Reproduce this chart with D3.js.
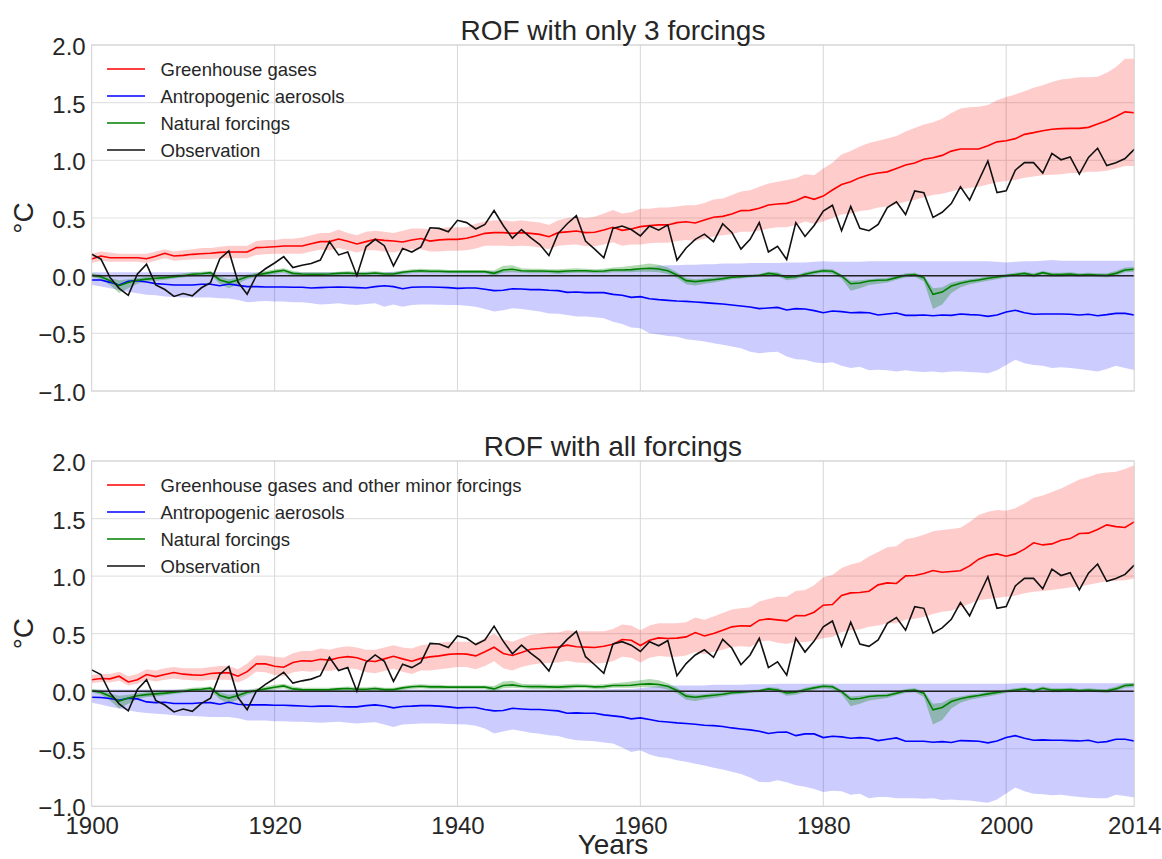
<!DOCTYPE html>
<html><head><meta charset="utf-8">
<script src="https://cdn.jsdelivr.net/npm/d3@7"></script>
<style>
body{margin:0;background:#fff}
svg{display:block}
text{font-family:"Liberation Sans",Arial,sans-serif;fill:#262626}
</style>
</head><body>
<svg id="chart" width="1162" height="859"></svg>
<script>
// Annual values 1900–2014, °C
const firstYear = 1900, lastYear = 2014;
const xTicks = [1900, 1920, 1940, 1960, 1980, 2000, 2014];
const xGrid = [1920, 1940, 1960, 1980, 2000];
const yTicks = [-1, -0.5, 0, 0.5, 1, 1.5, 2];

const observation = [
0.185,0.145,-0.015,-0.11,-0.17,0.015,0.10,-0.08,-0.12,-0.18,
-0.155,-0.175,-0.105,-0.06,0.145,0.215,-0.055,-0.16,0.0,0.06,
0.11,0.165,0.07,0.09,0.105,0.135,0.295,0.18,0.205,0.0,
0.25,0.315,0.26,0.085,0.235,0.205,0.25,0.415,0.41,0.38,
0.48,0.46,0.405,0.445,0.565,0.435,0.325,0.40,0.33,0.27,
0.175,0.365,0.45,0.52,0.30,0.23,0.155,0.41,0.43,0.40,
0.345,0.43,0.395,0.44,0.135,0.24,0.315,0.36,0.295,0.45,
0.375,0.23,0.315,0.46,0.205,0.255,0.14,0.46,0.34,0.435,
0.56,0.61,0.39,0.60,0.41,0.39,0.445,0.59,0.64,0.53,
0.735,0.72,0.505,0.55,0.625,0.77,0.655,0.825,0.995,0.72,
0.735,0.915,0.98,0.98,0.89,1.06,1.005,1.03,0.88,1.025,
1.105,0.955,0.98,1.015,1.095];

// ROF with only 3 forcings
const ghg3 = [
0.145,0.17,0.156,0.156,0.156,0.156,0.147,0.168,0.194,0.17,
0.176,0.185,0.19,0.194,0.202,0.205,0.205,0.205,0.243,0.246,
0.251,0.257,0.257,0.257,0.277,0.295,0.295,0.318,0.298,0.275,
0.295,0.315,0.306,0.30,0.292,0.309,0.322,0.30,0.31,0.315,
0.315,0.324,0.344,0.367,0.373,0.373,0.367,0.373,0.367,0.358,
0.338,0.373,0.38,0.387,0.373,0.376,0.396,0.42,0.393,0.405,
0.425,0.434,0.44,0.44,0.46,0.468,0.457,0.483,0.506,0.514,
0.535,0.564,0.566,0.584,0.613,0.622,0.627,0.65,0.685,0.662,
0.69,0.743,0.79,0.815,0.85,0.875,0.89,0.90,0.93,0.96,
0.977,1.01,1.023,1.043,1.08,1.098,1.098,1.098,1.127,1.16,
1.17,1.188,1.225,1.24,1.257,1.27,1.275,1.277,1.277,1.286,
1.315,1.344,1.38,1.42,1.413];
const ghg3Hi = [
0.19,0.21,0.20,0.19,0.19,0.19,0.19,0.21,0.23,0.21,
0.22,0.23,0.24,0.24,0.25,0.26,0.26,0.26,0.30,0.31,
0.31,0.32,0.32,0.33,0.35,0.37,0.37,0.40,0.37,0.35,
0.38,0.39,0.38,0.37,0.39,0.41,0.41,0.40,0.41,0.42,
0.42,0.42,0.45,0.47,0.48,0.48,0.47,0.48,0.47,0.46,
0.44,0.48,0.50,0.51,0.50,0.51,0.54,0.57,0.54,0.55,
0.58,0.58,0.59,0.59,0.60,0.61,0.61,0.63,0.66,0.67,
0.70,0.73,0.74,0.77,0.80,0.815,0.83,0.845,0.88,0.87,
0.93,0.98,1.05,1.08,1.12,1.15,1.17,1.19,1.21,1.25,
1.28,1.31,1.33,1.36,1.41,1.45,1.46,1.465,1.48,1.52,
1.55,1.57,1.60,1.63,1.65,1.68,1.70,1.71,1.72,1.72,
1.725,1.76,1.81,1.88,1.88];
const ghg3Lo = [
0.11,0.13,0.12,0.12,0.12,0.12,0.11,0.13,0.15,0.13,
0.135,0.14,0.145,0.145,0.15,0.15,0.15,0.15,0.18,0.185,
0.19,0.19,0.19,0.19,0.21,0.225,0.22,0.24,0.22,0.20,
0.22,0.22,0.21,0.20,0.22,0.23,0.23,0.21,0.21,0.215,
0.215,0.22,0.235,0.26,0.26,0.26,0.255,0.26,0.255,0.245,
0.23,0.26,0.265,0.27,0.255,0.255,0.27,0.29,0.26,0.27,
0.27,0.28,0.285,0.285,0.30,0.31,0.30,0.32,0.34,0.35,
0.36,0.38,0.38,0.39,0.41,0.42,0.42,0.44,0.47,0.45,
0.47,0.50,0.53,0.54,0.56,0.57,0.59,0.60,0.62,0.64,
0.655,0.68,0.70,0.71,0.73,0.75,0.76,0.77,0.79,0.81,
0.82,0.83,0.85,0.86,0.87,0.875,0.88,0.89,0.89,0.90,
0.90,0.91,0.93,0.95,0.95];
const aer3 = [
-0.038,-0.038,-0.058,-0.081,-0.049,-0.043,-0.055,-0.069,-0.075,-0.081,
-0.081,-0.081,-0.075,-0.075,-0.087,-0.072,-0.084,-0.095,-0.095,-0.098,
-0.098,-0.098,-0.101,-0.101,-0.107,-0.104,-0.101,-0.098,-0.101,-0.104,
-0.107,-0.095,-0.087,-0.095,-0.113,-0.101,-0.098,-0.098,-0.101,-0.104,
-0.11,-0.107,-0.107,-0.118,-0.13,-0.127,-0.113,-0.116,-0.121,-0.121,
-0.127,-0.13,-0.145,-0.142,-0.147,-0.147,-0.147,-0.162,-0.17,-0.188,
-0.182,-0.2,-0.208,-0.214,-0.22,-0.223,-0.228,-0.234,-0.24,-0.246,
-0.254,-0.263,-0.272,-0.286,-0.28,-0.275,-0.298,-0.286,-0.289,-0.303,
-0.321,-0.306,-0.312,-0.321,-0.318,-0.321,-0.341,-0.332,-0.324,-0.344,
-0.344,-0.341,-0.347,-0.341,-0.344,-0.332,-0.338,-0.341,-0.353,-0.341,
-0.315,-0.30,-0.321,-0.335,-0.332,-0.332,-0.332,-0.335,-0.341,-0.335,
-0.347,-0.338,-0.327,-0.327,-0.341];
const aer3Hi = [
0.03,0.03,0.03,0.03,0.03,0.03,0.03,0.03,0.03,0.03,
0.03,0.03,0.03,0.03,0.03,0.03,0.03,0.03,0.03,0.03,
0.03,0.03,0.03,0.03,0.03,0.03,0.03,0.03,0.03,0.03,
0.03,0.03,0.03,0.035,0.04,0.04,0.04,0.04,0.04,0.04,
0.04,0.04,0.04,0.04,0.04,0.04,0.04,0.04,0.04,0.04,
0.04,0.04,0.04,0.04,0.04,0.04,0.04,0.045,0.045,0.05,
0.055,0.07,0.085,0.09,0.09,0.095,0.095,0.10,0.10,0.105,
0.105,0.105,0.11,0.11,0.11,0.11,0.115,0.115,0.115,0.12,
0.125,0.12,0.12,0.12,0.12,0.125,0.125,0.125,0.125,0.125,
0.125,0.125,0.125,0.125,0.125,0.125,0.125,0.125,0.125,0.12,
0.115,0.12,0.125,0.125,0.13,0.135,0.13,0.13,0.13,0.13,
0.13,0.13,0.13,0.13,0.13];
const aer3Lo = [
-0.08,-0.095,-0.11,-0.125,-0.14,-0.153,-0.165,-0.17,-0.18,-0.185,
-0.19,-0.19,-0.19,-0.19,-0.195,-0.197,-0.21,-0.23,-0.225,-0.22,
-0.225,-0.225,-0.23,-0.23,-0.24,-0.25,-0.245,-0.24,-0.25,-0.254,
-0.245,-0.24,-0.27,-0.25,-0.27,-0.255,-0.25,-0.25,-0.252,-0.255,
-0.254,-0.26,-0.27,-0.29,-0.31,-0.30,-0.283,-0.29,-0.30,-0.31,
-0.327,-0.33,-0.34,-0.355,-0.355,-0.36,-0.37,-0.40,-0.42,-0.45,
-0.457,-0.50,-0.51,-0.523,-0.53,-0.552,-0.56,-0.57,-0.585,-0.60,
-0.615,-0.63,-0.66,-0.673,-0.665,-0.66,-0.70,-0.725,-0.73,-0.75,
-0.76,-0.75,-0.78,-0.80,-0.79,-0.82,-0.815,-0.82,-0.83,-0.82,
-0.83,-0.835,-0.83,-0.84,-0.83,-0.83,-0.835,-0.84,-0.847,-0.82,
-0.775,-0.73,-0.76,-0.775,-0.78,-0.80,-0.795,-0.80,-0.81,-0.82,
-0.83,-0.81,-0.78,-0.80,-0.818];

// Natural forcings response (same in both attributions)
const natural = [
0.005,-0.009,-0.043,-0.087,-0.06,-0.04,-0.03,-0.023,-0.017,-0.009,
0.0,0.012,0.017,0.026,-0.037,-0.06,-0.038,-0.009,0.006,0.02,
0.035,0.046,0.02,0.014,0.012,0.012,0.014,0.02,0.023,0.017,
0.017,0.023,0.014,0.014,0.029,0.038,0.043,0.038,0.038,0.035,
0.035,0.035,0.035,0.035,0.02,0.049,0.055,0.043,0.04,0.04,
0.038,0.035,0.04,0.043,0.043,0.038,0.04,0.049,0.049,0.052,
0.06,0.064,0.058,0.043,0.006,-0.043,-0.052,-0.043,-0.035,-0.026,
-0.014,-0.009,-0.003,0.003,0.02,0.01,-0.015,-0.009,0.012,0.029,
0.043,0.038,-0.003,-0.07,-0.064,-0.046,-0.04,-0.038,-0.017,0.003,
0.009,-0.017,-0.162,-0.142,-0.09,-0.066,-0.049,-0.038,-0.023,-0.012,
0.0,0.009,0.02,0.003,0.026,0.009,0.009,0.014,0.006,0.009,
0.006,0.003,0.02,0.049,0.055];
const naturalHi = [
0.02,0.01,-0.02,-0.04,-0.03,-0.02,-0.01,0.0,0.0,0.01,
0.02,0.03,0.035,0.04,-0.01,-0.03,-0.015,0.01,0.025,0.04,
0.055,0.065,0.04,0.03,0.03,0.03,0.03,0.035,0.04,0.035,
0.035,0.04,0.03,0.03,0.045,0.055,0.06,0.055,0.055,0.05,
0.05,0.05,0.05,0.05,0.045,0.085,0.09,0.065,0.06,0.06,
0.055,0.055,0.06,0.065,0.06,0.055,0.06,0.07,0.075,0.085,
0.095,0.105,0.095,0.07,0.03,-0.02,-0.03,-0.025,-0.015,-0.01,
0.0,0.005,0.01,0.015,0.035,0.03,0.0,0.005,0.03,0.045,
0.06,0.055,0.01,-0.045,-0.04,-0.03,-0.025,-0.02,0.0,0.02,
0.025,0.0,-0.11,-0.10,-0.06,-0.045,-0.03,-0.02,-0.005,0.005,
0.015,0.025,0.035,0.02,0.04,0.025,0.025,0.03,0.02,0.025,
0.02,0.02,0.04,0.07,0.075];
const naturalLo = [
-0.01,-0.03,-0.08,-0.15,-0.11,-0.07,-0.05,-0.045,-0.035,-0.025,
-0.015,-0.005,0.0,0.005,-0.07,-0.11,-0.07,-0.03,-0.01,0.0,
0.015,0.025,0.0,-0.005,-0.005,-0.005,-0.005,0.0,0.005,0.0,
0.0,0.005,-0.005,-0.005,0.01,0.02,0.025,0.02,0.02,0.02,
0.02,0.02,0.02,0.02,0.0,0.025,0.03,0.025,0.02,0.02,
0.02,0.015,0.02,0.025,0.025,0.02,0.02,0.03,0.03,0.03,
0.035,0.035,0.03,0.015,-0.02,-0.075,-0.085,-0.07,-0.06,-0.045,
-0.03,-0.025,-0.015,-0.01,0.005,-0.005,-0.04,-0.03,-0.01,0.01,
0.025,0.015,-0.025,-0.13,-0.11,-0.08,-0.07,-0.06,-0.035,-0.015,
-0.01,-0.05,-0.29,-0.25,-0.15,-0.10,-0.075,-0.06,-0.045,-0.03,
-0.015,-0.005,0.005,-0.015,0.01,-0.01,-0.01,0.0,-0.01,-0.005,
-0.01,-0.015,0.0,0.03,0.035];

// ROF with all forcings
const ghgAll = [
0.10,0.11,0.107,0.13,0.08,0.10,0.145,0.127,0.145,0.162,
0.148,0.142,0.139,0.154,0.159,0.159,0.13,0.17,0.237,0.237,
0.217,0.208,0.249,0.264,0.261,0.278,0.27,0.29,0.30,0.29,
0.264,0.258,0.281,0.304,0.281,0.261,0.285,0.298,0.307,0.32,
0.325,0.322,0.307,0.342,0.382,0.328,0.31,0.336,0.365,0.371,
0.38,0.383,0.40,0.386,0.383,0.38,0.391,0.408,0.449,0.443,
0.397,0.443,0.463,0.458,0.461,0.472,0.51,0.48,0.501,0.53,
0.559,0.568,0.565,0.617,0.628,0.62,0.611,0.657,0.655,0.686,
0.747,0.753,0.831,0.854,0.857,0.869,0.924,0.941,0.936,1.002,
1.005,1.022,1.048,1.034,1.04,1.046,1.089,1.147,1.178,1.193,
1.173,1.193,1.234,1.289,1.271,1.28,1.312,1.326,1.37,1.373,
1.405,1.445,1.43,1.422,1.471];
const ghgAllHi = [
0.14,0.15,0.15,0.17,0.13,0.15,0.19,0.18,0.20,0.21,
0.20,0.20,0.20,0.21,0.22,0.22,0.19,0.24,0.31,0.31,
0.30,0.29,0.33,0.35,0.35,0.37,0.36,0.38,0.39,0.38,
0.36,0.36,0.38,0.40,0.38,0.37,0.40,0.41,0.42,0.43,
0.43,0.43,0.42,0.46,0.50,0.45,0.43,0.46,0.49,0.50,
0.51,0.51,0.53,0.52,0.52,0.52,0.52,0.54,0.58,0.57,
0.53,0.57,0.59,0.59,0.59,0.60,0.64,0.62,0.65,0.68,
0.71,0.72,0.73,0.78,0.80,0.82,0.82,0.87,0.88,0.92,
0.99,1.01,1.07,1.10,1.12,1.17,1.21,1.25,1.26,1.32,
1.335,1.36,1.39,1.40,1.41,1.42,1.47,1.53,1.56,1.575,
1.567,1.59,1.63,1.68,1.70,1.73,1.76,1.80,1.84,1.86,
1.89,1.90,1.906,1.93,1.963];
const ghgAllLo = [
0.07,0.08,0.075,0.09,0.05,0.065,0.10,0.085,0.10,0.11,
0.10,0.095,0.09,0.10,0.10,0.10,0.075,0.11,0.17,0.165,
0.14,0.13,0.165,0.175,0.17,0.18,0.175,0.19,0.20,0.19,
0.165,0.155,0.175,0.195,0.17,0.15,0.18,0.18,0.19,0.20,
0.21,0.21,0.19,0.22,0.26,0.20,0.18,0.21,0.23,0.24,
0.245,0.25,0.265,0.25,0.245,0.24,0.245,0.26,0.30,0.29,
0.25,0.29,0.305,0.30,0.30,0.31,0.34,0.32,0.34,0.36,
0.385,0.39,0.385,0.43,0.44,0.42,0.41,0.43,0.425,0.44,
0.46,0.47,0.515,0.53,0.535,0.56,0.57,0.59,0.59,0.62,
0.63,0.645,0.67,0.69,0.70,0.73,0.76,0.79,0.80,0.81,
0.82,0.83,0.85,0.865,0.87,0.88,0.89,0.90,0.91,0.925,
0.94,0.955,0.96,0.965,0.98];
const aerAll = [
-0.052,-0.055,-0.064,-0.078,-0.061,-0.067,-0.093,-0.099,-0.096,-0.107,
-0.107,-0.107,-0.101,-0.099,-0.113,-0.096,-0.113,-0.119,-0.119,-0.119,
-0.122,-0.122,-0.125,-0.128,-0.133,-0.13,-0.128,-0.133,-0.136,-0.136,
-0.125,-0.119,-0.128,-0.145,-0.133,-0.13,-0.125,-0.125,-0.13,-0.136,
-0.145,-0.142,-0.142,-0.159,-0.171,-0.168,-0.148,-0.154,-0.159,-0.159,
-0.165,-0.171,-0.191,-0.188,-0.191,-0.191,-0.206,-0.214,-0.223,-0.24,
-0.232,-0.246,-0.261,-0.267,-0.275,-0.281,-0.287,-0.296,-0.299,-0.307,
-0.319,-0.328,-0.336,-0.348,-0.368,-0.357,-0.354,-0.386,-0.371,-0.371,
-0.403,-0.391,-0.397,-0.409,-0.403,-0.409,-0.429,-0.417,-0.406,-0.435,
-0.435,-0.435,-0.443,-0.438,-0.446,-0.429,-0.432,-0.435,-0.449,-0.432,
-0.403,-0.386,-0.409,-0.426,-0.423,-0.426,-0.426,-0.429,-0.432,-0.426,
-0.446,-0.438,-0.417,-0.417,-0.432];
const aerAllHi = [
0.015,0.015,0.015,0.015,0.015,0.015,0.015,0.015,0.015,0.015,
0.015,0.015,0.015,0.015,0.015,0.015,0.015,0.015,0.015,0.015,
0.015,0.015,0.015,0.015,0.015,0.015,0.015,0.015,0.015,0.015,
0.015,0.015,0.015,0.015,0.015,0.015,0.015,0.015,0.015,0.015,
0.015,0.015,0.015,0.015,0.015,0.015,0.015,0.015,0.015,0.015,
0.015,0.015,0.015,0.015,0.015,0.015,0.015,0.02,0.02,0.02,
0.025,0.035,0.045,0.05,0.05,0.05,0.05,0.05,0.055,0.055,
0.055,0.055,0.06,0.06,0.06,0.065,0.065,0.065,0.065,0.065,
0.065,0.065,0.065,0.065,0.065,0.065,0.065,0.065,0.065,0.065,
0.065,0.065,0.065,0.065,0.065,0.065,0.065,0.065,0.065,0.065,
0.065,0.07,0.07,0.07,0.07,0.07,0.07,0.07,0.07,0.07,
0.07,0.07,0.07,0.07,0.07];
const aerAllLo = [
-0.10,-0.115,-0.135,-0.15,-0.165,-0.18,-0.19,-0.195,-0.20,-0.21,
-0.215,-0.215,-0.22,-0.225,-0.225,-0.225,-0.235,-0.255,-0.255,-0.255,
-0.26,-0.26,-0.265,-0.265,-0.27,-0.275,-0.27,-0.265,-0.275,-0.28,
-0.275,-0.27,-0.29,-0.31,-0.29,-0.285,-0.28,-0.28,-0.28,-0.285,
-0.287,-0.29,-0.30,-0.325,-0.368,-0.35,-0.333,-0.345,-0.36,-0.37,
-0.383,-0.39,-0.41,-0.426,-0.43,-0.435,-0.445,-0.455,-0.49,-0.528,
-0.513,-0.55,-0.571,-0.58,-0.60,-0.614,-0.63,-0.645,-0.665,-0.68,
-0.70,-0.72,-0.75,-0.788,-0.79,-0.774,-0.79,-0.817,-0.83,-0.85,
-0.875,-0.865,-0.87,-0.90,-0.89,-0.93,-0.92,-0.92,-0.93,-0.93,
-0.93,-0.935,-0.93,-0.945,-0.94,-0.947,-0.95,-0.96,-0.97,-0.94,
-0.889,-0.837,-0.87,-0.89,-0.895,-0.904,-0.90,-0.91,-0.92,-0.925,
-0.93,-0.93,-0.90,-0.91,-0.924];

const years = d3.range(firstYear, lastYear + 1);

const panels = [
  {title: "ROF with only 3 forcings", top: 45, bottom: 391, showX: false,
   ghg: [ghg3, ghg3Lo, ghg3Hi], aer: [aer3, aer3Lo, aer3Hi],
   labels: ["Greenhouse gases", "Antropogenic aerosols", "Natural forcings", "Observation"]},
  {title: "ROF with all forcings", top: 461, bottom: 806.3, showX: true,
   ghg: [ghgAll, ghgAllLo, ghgAllHi], aer: [aerAll, aerAllLo, aerAllHi],
   labels: ["Greenhouse gases and other minor forcings", "Antropogenic aerosols", "Natural forcings", "Observation"]}
];

const svg = d3.select("#chart");
const left = 91.7, right = 1134.2;
const x = d3.scaleLinear().domain([firstYear, lastYear]).range([left, right]);
const fmtY = d3.format(".1f");
const lw = 1.6;

function drawPanel(p) {
  const y = d3.scaleLinear().domain([-1, 2]).range([p.bottom, p.top]);
  const g = svg.append("g");

  // grid
  g.append("g").selectAll("line").data(yTicks).join("line")
    .attr("x1", left).attr("x2", right)
    .attr("y1", d => y(d)).attr("y2", d => y(d))
    .attr("stroke", "#e3e3e3").attr("stroke-width", 1.2);
  g.append("g").selectAll("line").data(xGrid).join("line")
    .attr("x1", d => x(d)).attr("x2", d => x(d))
    .attr("y1", p.top).attr("y2", p.bottom)
    .attr("stroke", "#dadada").attr("stroke-width", 1.1);

  const band = (lo, hi) => d3.area()
    .x((d, i) => x(years[i])).y0((d, i) => y(lo[i])).y1((d, i) => y(hi[i]))(years);
  const line = vals => d3.line().x((d, i) => x(years[i])).y(d => y(d))(vals);

  g.append("path").attr("d", band(p.ghg[1], p.ghg[2])).attr("fill", "rgba(255,0,0,0.2)");
  g.append("path").attr("d", band(p.aer[1], p.aer[2])).attr("fill", "rgba(0,0,255,0.2)");
  g.append("path").attr("d", band(naturalLo, naturalHi)).attr("fill", "rgba(0,128,0,0.3)");

  g.append("path").attr("d", line(p.ghg[0])).attr("fill", "none").attr("stroke", "#ff0000").attr("stroke-width", lw);
  g.append("path").attr("d", line(p.aer[0])).attr("fill", "none").attr("stroke", "#0000ff").attr("stroke-width", lw);
  g.append("path").attr("d", line(natural)).attr("fill", "none").attr("stroke", "#008000").attr("stroke-width", lw);

  // zero reference
  g.append("line").attr("x1", left).attr("x2", right).attr("y1", y(0)).attr("y2", y(0))
    .attr("stroke", "#222").attr("stroke-width", 1.5);

  g.append("path").attr("d", line(observation)).attr("fill", "none").attr("stroke", "#111").attr("stroke-width", lw);

  // frame
  g.append("rect").attr("x", left).attr("y", p.top).attr("width", right - left).attr("height", p.bottom - p.top)
    .attr("fill", "none").attr("stroke", "#cfcfcf").attr("stroke-width", 1);

  // y axis
  const ya = g.append("g").attr("transform", `translate(${left},0)`)
    .call(d3.axisLeft(y).tickValues(yTicks).tickSize(0).tickPadding(6).tickFormat(fmtY));
  ya.select(".domain").remove();
  ya.selectAll("text").attr("font-size", 24).attr("dy", null)
    .attr("y", 9.5).style("font-family", '"Liberation Sans",Arial,sans-serif').attr("fill", "#262626");

  if (p.showX) {
    const xa = g.append("g").attr("transform", `translate(0,${p.bottom})`)
      .call(d3.axisBottom(x).tickValues(xTicks).tickSize(0).tickPadding(0).tickFormat(d3.format("d")));
    xa.select(".domain").remove();
    xa.selectAll("text").attr("font-size", 24).attr("dy", null).attr("y", 28)
      .style("font-family", '"Liberation Sans",Arial,sans-serif').attr("fill", "#262626");
  }

  // titles
  g.append("text").attr("x", (left + right) / 2).attr("y", p.top - 5)
    .attr("text-anchor", "middle").attr("font-size", 28).text(p.title);
  g.append("text").attr("transform", `translate(33,${(p.top + p.bottom) / 2}) rotate(-90)`)
    .attr("text-anchor", "middle").attr("font-size", 28).text("°C");

  // legend
  const colors = ["#ff0000", "#0000ff", "#008000", "#111"];
  const lg = g.append("g");
  p.labels.forEach((lab, i) => {
    const ly = p.top + 24 + 27 * i;
    lg.append("line").attr("x1", 107).attr("x2", 145).attr("y1", ly).attr("y2", ly)
      .attr("stroke", colors[i]).attr("stroke-width", lw);
    lg.append("text").attr("x", 160.5).attr("y", ly + 6.5).attr("font-size", 18.5).text(lab);
  });
}

panels.forEach(drawPanel);

svg.append("text").attr("x", (left + right) / 2).attr("y", 854)
  .attr("text-anchor", "middle").attr("font-size", 28).text("Years");
</script>
</body></html>
